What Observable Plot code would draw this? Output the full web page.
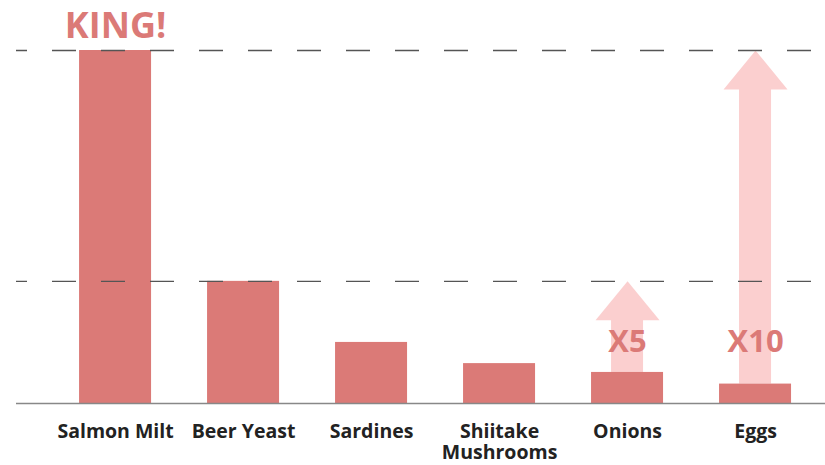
<!DOCTYPE html>
<html><head><meta charset="utf-8">
<script src="https://cdn.jsdelivr.net/npm/d3@7"></script>
<script src="https://cdn.jsdelivr.net/npm/@observablehq/plot@0.6"></script>
<style>body{margin:0;background:#fff;}</style>
</head><body><div id="chart"></div>
<script>
const categories = ["Salmon Milt", "Beer Yeast", "Sardines", "Shiitake Mushrooms", "Onions", "Eggs"];
const values = [100, 34.6, 17.3, 11.3, 8.8, 5.5];
const tickLabels = ["Salmon Milt", "Beer Yeast", "Sardines", "Shiitake\nMushrooms", "Onions", "Eggs"];
const guideLevels = [100, 34.6];
const arrowCategories = ["Onions", "Eggs"];
const arrowTargets = [34.6, 100];
const arrowLabels = ["X5", "X10"];
const kingLabel = "KING!";

const barColor = "#db7a77";
const arrowColor = "#fbcfcf";
const font = "'Open Sans', 'Noto Sans', sans-serif";

const bars = categories.map((c, i) => ({cat: c, value: values[i]}));
const arrows = arrowCategories.map((c, i) => ({
  cat: c,
  from: values[categories.indexOf(c)],
  to: arrowTargets[i],
  label: arrowLabels[i]
}));
const king = [{cat: categories[0], value: values[0], label: kingLabel}];
const labelOf = new Map(categories.map((c, i) => [c, tickLabels[i]]));

const headSymbol = {
  draw(ctx) {
    ctx.moveTo(0, 0);
    ctx.lineTo(32, 39);
    ctx.lineTo(-32, 39);
    ctx.closePath();
  }
};

const chart = Plot.plot({
  width: 825,
  height: 465,
  marginLeft: 16,
  marginRight: 0,
  marginTop: 50,
  marginBottom: 62,
  style: {fontFamily: font, background: "#fff"},
  x: {domain: categories, paddingInner: 0.4375, paddingOuter: 0.379, align: 0.65, round: false, label: null},
  y: {domain: [0, 100], axis: null},
  marks: [
    Plot.barY(arrows, {x: "cat", y1: "from", y2: "to", fill: arrowColor, insetTop: 38, insetLeft: 20, insetRight: 20}),
    Plot.dot(arrows, {x: "cat", y: "to", symbol: headSymbol, r: 1, fill: arrowColor, stroke: "none"}),
    Plot.barY(bars, {x: "cat", y: "value", fill: barColor}),
    Plot.ruleY(guideLevels, {stroke: "#555", strokeWidth: 1.3, strokeDasharray: "24,25", strokeDashoffset: 13}),
    Plot.ruleY([0], {stroke: "#888", strokeWidth: 1.5}),
    Plot.text(arrows, {x: "cat", text: "label", frameAnchor: "bottom", lineAnchor: "middle", dy: -61, fontSize: 31, fontWeight: "bold", fill: barColor}),
    Plot.text(king, {x: "cat", y: "value", text: "label", lineAnchor: "middle", dy: -24, fontSize: 36, fontWeight: "bold", fill: barColor}),
    Plot.axisX({tickSize: 0, tickPadding: 19, fontSize: 19.5, fontWeight: "bold", fill: "#222", lineHeight: 1.1, tickFormat: d => labelOf.get(d)})
  ]
});
document.getElementById("chart").appendChild(chart);
</script>
</body></html>
